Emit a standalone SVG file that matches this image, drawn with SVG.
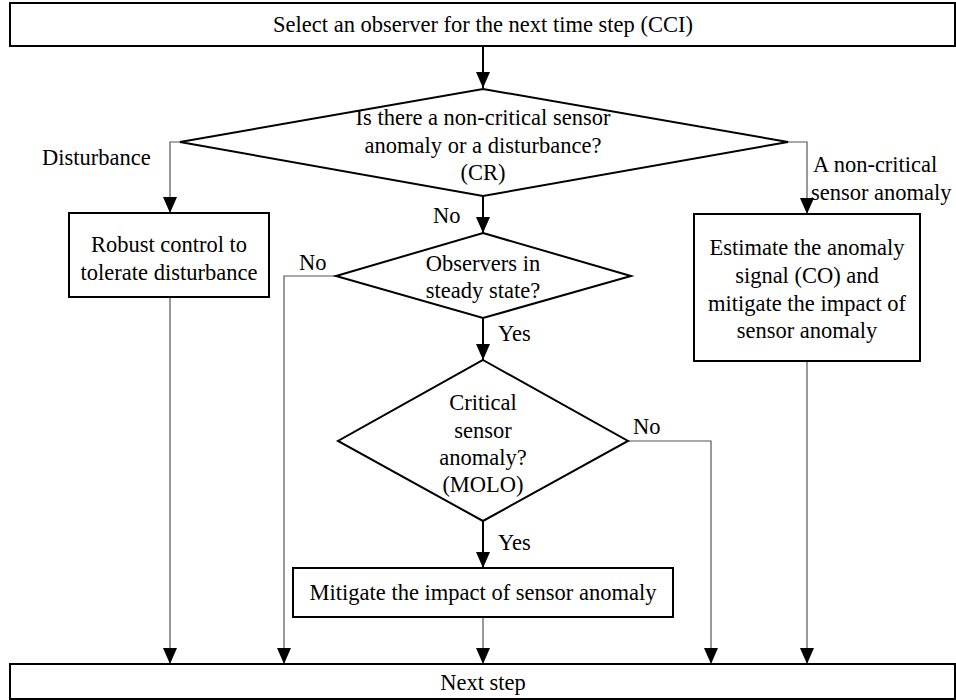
<svg xmlns="http://www.w3.org/2000/svg" width="956" height="700" viewBox="0 0 956 700">
<style>
.box{fill:#fff;stroke:#000;stroke-width:2}
.t{font-family:"Liberation Serif","Times New Roman",serif;font-size:22.5px;fill:#000;text-anchor:middle}
.l{font-family:"Liberation Serif","Times New Roman",serif;font-size:22.5px;fill:#000}
.main{fill:none;stroke:#000;stroke-width:2}
.thin{fill:none;stroke:#555;stroke-width:1.2}
</style>
<defs>
<marker id="ah" markerUnits="userSpaceOnUse" markerWidth="16" markerHeight="18" refX="8" refY="16" orient="0" viewBox="0 0 16 18">
<path d="M1,0 L15,0 L8,16 Z" fill="#000"/>
</marker>
</defs>
<rect width="956" height="700" fill="#fff"/>
<g id="connectors">
<path class="main" d="M483,46 V88" marker-end="url(#ah)"/>
<path class="thin" d="M180,142 H170 V213" marker-end="url(#ah)"/>
<path class="thin" d="M788,142 H807 V214" marker-end="url(#ah)"/>
<path class="main" d="M483,196 V233" marker-end="url(#ah)"/>
<path class="thin" d="M336,276 H284 V664" marker-end="url(#ah)"/>
<path class="main" d="M483,318 V360" marker-end="url(#ah)"/>
<path class="thin" d="M628,441 H711 V664" marker-end="url(#ah)"/>
<path class="main" d="M483,521 V568" marker-end="url(#ah)"/>
<path class="thin" d="M170,297 V664" marker-end="url(#ah)"/>
<path class="thin" d="M807,361 V664" marker-end="url(#ah)"/>
<path class="thin" d="M483,617 V664" marker-end="url(#ah)"/>
<text class="l" x="42" y="165">Disturbance</text>
<text class="l" x="813" y="172">A non-critical</text>
<text class="l" x="811" y="200">sensor anomaly</text>
<text class="l" x="433" y="223">No</text>
<text class="l" x="299" y="270">No</text>
<text class="l" x="498" y="341">Yes</text>
<text class="l" x="633" y="434">No</text>
<text class="l" x="498" y="550">Yes</text>
</g>
<g id="start">
<rect class="box" x="10" y="3" width="945" height="43"/>
<text class="t" x="483" y="32">Select an observer for the next time step (CCI)</text>
</g>
<g id="decision-cr">
<polygon class="box" points="483,89 788,142 483,196 180,142"/>
<text class="t" x="483" y="125">Is there a non-critical sensor</text>
<text class="t" x="483" y="153">anomaly or a disturbance?</text>
<text class="t" x="483" y="180">(CR)</text>
</g>
<g id="robust">
<rect class="box" x="69" y="213" width="200" height="84"/>
<text class="t" x="169" y="252">Robust control to</text>
<text class="t" x="169" y="280">tolerate disturbance</text>
</g>
<g id="estimate">
<rect class="box" x="694" y="214" width="226" height="147"/>
<text class="t" x="807" y="255">Estimate the anomaly</text>
<text class="t" x="807" y="283">signal (CO) and</text>
<text class="t" x="807" y="311">mitigate the impact of</text>
<text class="t" x="807" y="338">sensor anomaly</text>
</g>
<g id="decision-steady">
<polygon class="box" points="483,233 631,276 483,318 336,276"/>
<text class="t" x="483" y="271">Observers in</text>
<text class="t" x="483" y="298">steady state?</text>
</g>
<g id="decision-critical">
<polygon class="box" points="483,360 628,441 483,521 338,441"/>
<text class="t" x="483" y="410">Critical</text>
<text class="t" x="483" y="438">sensor</text>
<text class="t" x="483" y="465">anomaly?</text>
<text class="t" x="483" y="492">(MOLO)</text>
</g>
<g id="mitigate">
<rect class="box" x="293" y="568" width="380" height="49"/>
<text class="t" x="483" y="600">Mitigate the impact of sensor anomaly</text>
</g>
<g id="next">
<rect class="box" x="10" y="664" width="945" height="35"/>
<text class="t" x="483" y="690">Next step</text>
</g>
</svg>
